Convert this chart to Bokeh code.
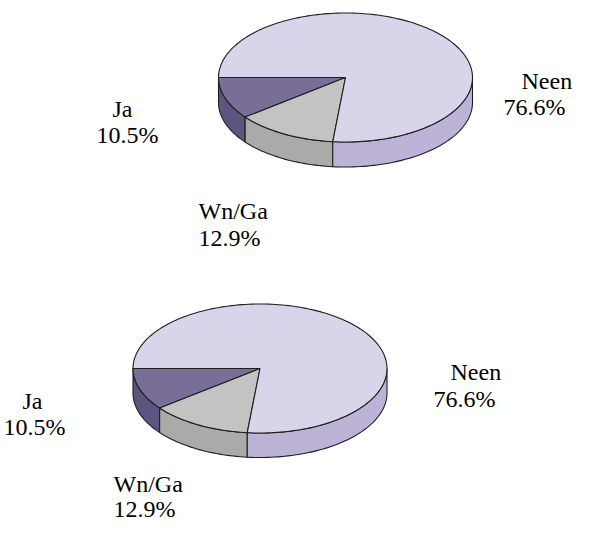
import numpy as np
from bokeh.plotting import figure
from bokeh.models import Range1d, ColumnDataSource
from bokeh.core.properties import value
from bokeh.embed import file_html
from bokeh.resources import INLINE

# ---- data ----
categories = ["Ja", "Wn/Ga", "Neen"]
values_top = [10.5, 12.9, 76.6]
values_bottom = [10.5, 12.9, 76.6]

# ---- styles ----
top_colors = ["#786E96", "#C3C3C1", "#D8D4EA"]
side_colors = ["#5D5580", "#AAAAA8", "#BDB3D7"]
FONT = value("'Liberation Serif', 'Times New Roman', 'DejaVu Serif', serif")
FSIZE = value("24px")
BASE_FIX = 9  # renderer draws alphabetic baseline slightly lower

W, H = 573, 524
p = figure(width=W, height=H, x_range=Range1d(0, W), y_range=Range1d(H, 0),
           output_backend="svg", toolbar_location=None, title=None,
           x_axis_type=None, y_axis_type=None, min_border=0)
p.grid.visible = False
p.outline_line_color = None
p.background_fill_color = "white"
p.border_fill_color = "white"


def arc(cx, cy, rx, ry, a0, a1, dy=0.0):
    n = max(int(abs(a1 - a0) / 1.5), 2)
    t = np.radians(np.linspace(a0, a1, n))
    return list(cx + rx * np.cos(t)), list(cy - ry * np.sin(t) + dy)


def pie3d(vals, cx, cy, rx, ry, depth, start=180.0):
    total = float(sum(vals))
    sx, sy, sc, tx, ty, tc = [], [], [], [], [], []
    a = start
    for v, ct, cs in zip(vals, top_colors, side_colors):
        b = a + 360.0 * v / total
        for w0, w1 in ((180.0, 360.0), (540.0, 720.0)):
            lo, hi = max(a, w0), min(b, w1)
            if hi > lo:
                xt, yt = arc(cx, cy, rx, ry, lo, hi)
                xb, yb = arc(cx, cy, rx, ry, hi, lo, depth)
                sx.append(xt + xb)
                sy.append(yt + yb)
                sc.append(cs)
        xa, ya = arc(cx, cy, rx, ry, a, b)
        tx.append([cx] + xa)
        ty.append([cy] + ya)
        tc.append(ct)
        a = b
    p.patches("xs", "ys", fill_color="c", line_color="#1E1E1E", line_width=1.1,
              line_join="round", source=ColumnDataSource(dict(xs=sx, ys=sy, c=sc)))
    p.patches("xs", "ys", fill_color="c", line_color="#1E1E1E", line_width=1.1,
              line_join="round", source=ColumnDataSource(dict(xs=tx, ys=ty, c=tc)))


def labels(vals, positions):
    xs, ys, txt = [], [], []
    for cat, v, (n_pos, v_pos) in zip(categories, vals, positions):
        xs += [n_pos[0], v_pos[0]]
        ys += [n_pos[1] - BASE_FIX, v_pos[1] - BASE_FIX]
        txt += [cat, f"{v:.1f}%"]
    p.text(x=xs, y=ys, text=txt, text_font=FONT, text_font_size=FSIZE,
           text_align="left", text_baseline="alphabetic", text_color="black")


pie3d(values_top, 345, 77, 127, 64.5, 25)
pie3d(values_bottom, 259.5, 368, 127, 64.5, 24.5)

labels(values_top, [((112, 117), (96, 143)),
                    ((198, 219), (198, 246)),
                    ((521, 89), (503, 115))])
labels(values_bottom, [((22, 409), (3, 435)),
                       ((113, 492), (113, 517)),
                       ((450, 380), (433, 407))])

open("out.html", "w").write(file_html(p, INLINE))
